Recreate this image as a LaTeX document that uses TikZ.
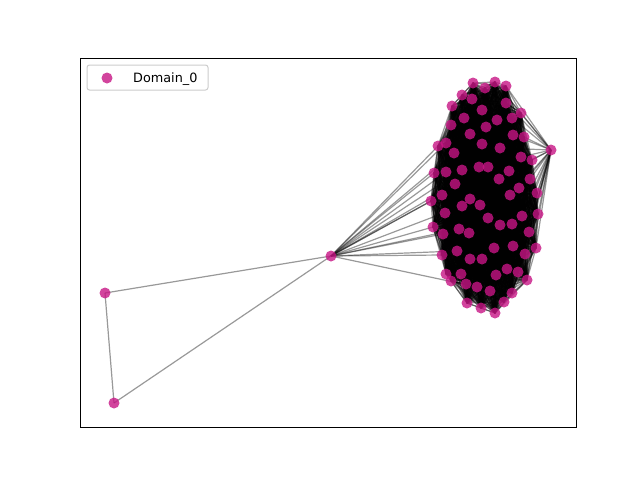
\documentclass[tikz,border=0pt]{standalone}
\usepackage{fontspec}
\setmainfont{DejaVu Sans}
\usetikzlibrary{backgrounds}
\definecolor{mvr}{RGB}{199,21,133}
\tikzset{
  vtx/.style={circle,fill=mvr,fill opacity=0.8,draw=none,minimum size=11pt,inner sep=0pt},
  edg/.style={draw=black,opacity=0.4,line width=1.2pt},
  frame/.style={draw=black,line width=0.9pt},
  legbox/.style={draw=black!20,fill=white,fill opacity=0.8,rounded corners=2.5pt,line width=1pt,minimum width=121pt,minimum height=25pt,inner sep=0pt},
  legtext/.style={font=\fontsize{12.8}{15}\selectfont,inner sep=0pt,anchor=base west}
}
\begin{document}
\begin{tikzpicture}[x=1pt,y=-1pt]
\useasboundingbox (0,0) rectangle (640,480);
% cluster nodes
\foreach \x/\y [count=\i] in {
473/83,485/88,495/82,506/86,462/95,472/99,452/106,506/103,482/110,521/113,
464/118,497/120,512/118,451/125,486/127,470/134,513/135,524/137,438/146,446/143,
482/144,500/148,454/153,521/157,532/160,434/173,446/172,462/170,479/167,488/167,
509/171,499/179,530/179,455/184,519/188,442/195,510/195,537/193,431/201,470/199,
462/206,480/205,445/213,488/218,522/216,538/214,500/225,512/224,433/227,443/234,
459/229,469/233,529/232,494/248,513/246,536/248,442/255,457/251,470/259,482/259,
525/254,507/269,496/275,518/272,446/274,461/274,451/281,466/284,477/287,527/280,
490/291,512/293,467/303,481/308,504/302,495/313}
  \node[vtx] (n\i) at (\x,\y) {};
\node[vtx] (R) at (551,150) {};
\node[vtx] (H) at (331,256) {};
\node[vtx] (A) at (105,293) {};
\node[vtx] (B) at (114,403) {};
\begin{scope}[on background layer]
\foreach \i in {1,...,75} {
  \pgfmathtruncatemacro\s{\i+1}
  \foreach \j in {\s,...,76} \draw[edg] (n\i.center) -- (n\j.center);
}
\foreach \j in {19,20,23,26,27,28,34,36,39,41,49,50,51,57,58,69}
  \draw[edg] (H.center) -- (n\j.center);
\foreach \j in {3,4,8,10,13,17,18,22,24,25,31,33,35,37,38,45,46,48,53,55,56,61,64,70,72,75}
  \draw[edg] (R.center) -- (n\j.center);
\draw[edg] (H.center) -- (A.center);
\draw[edg] (A.center) -- (B.center);
\draw[edg] (B.center) -- (H.center);
\end{scope}
% axes frame
\draw[frame] (80,58) rectangle (576,427);
% legend
\node[legbox] (leg) at (147.5,77.5) {};
\node[vtx] (legm) at (107,78) {};
\node[legtext] (legt) at (133,82) {Domain\_0};
\end{tikzpicture}
\end{document}
